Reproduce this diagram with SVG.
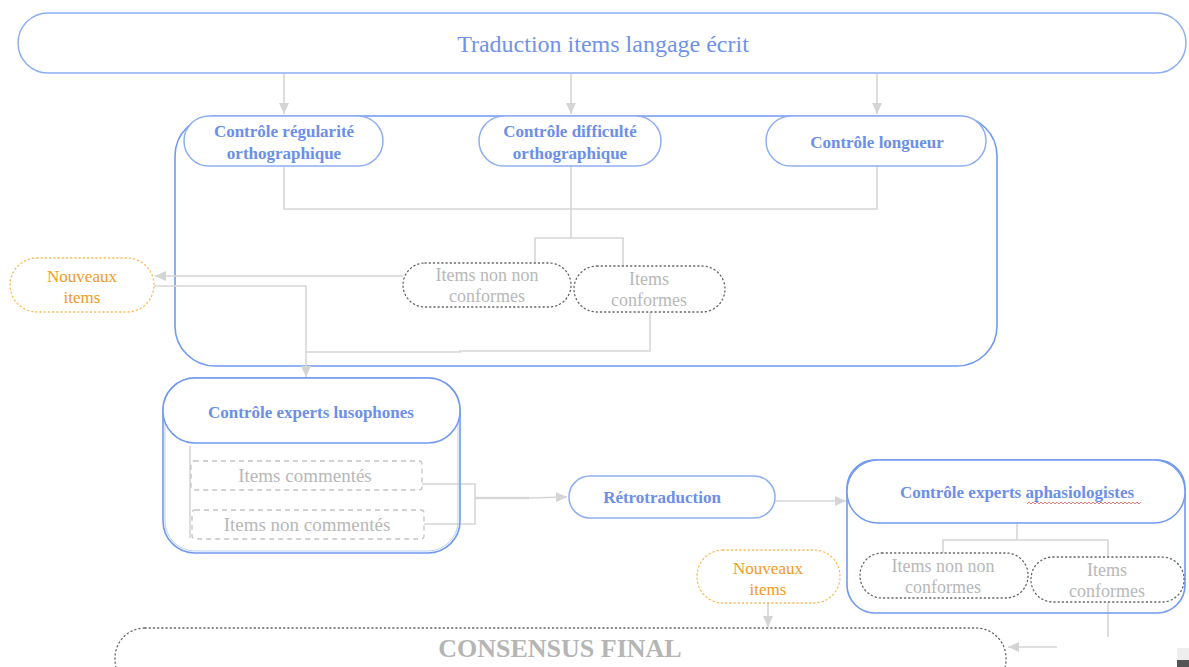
<svg xmlns="http://www.w3.org/2000/svg" width="1189" height="667" viewBox="0 0 1189 667">
<style>
.bg{fill:#ffffff}
.node{fill:#ffffff;stroke:#8eaef3;stroke-width:1.5}
.box{fill:none;stroke:#7199ef;stroke-width:1.6}
.dot{fill:#ffffff;stroke:#666;stroke-width:1.3;stroke-dasharray:1.2 3;stroke-linecap:round}
.odot{fill:#ffffff;stroke:#f9bb55;stroke-width:1.3;stroke-dasharray:1.2 3;stroke-linecap:round}
.dash{fill:#ffffff;stroke:#c4c4c4;stroke-width:1.3;stroke-dasharray:5 4}
.con{fill:none;stroke:#d6d6d6;stroke-width:1.6}
.title{font-family:"Liberation Serif",serif;font-size:24px;fill:#6f93ec;text-anchor:middle}
.bt{font-family:"Liberation Serif",serif;font-size:17px;font-weight:bold;fill:#6b8fea;text-anchor:middle}
.gt{font-family:"Liberation Serif",serif;font-size:18px;fill:#b8b8b8;text-anchor:middle}
.ot{font-family:"Liberation Serif",serif;font-size:17px;fill:#f39a22;text-anchor:middle}
.ct{font-family:"Liberation Serif",serif;font-size:26px;font-weight:bold;fill:#b5b5b5;text-anchor:middle}
</style>
<defs>
<marker id="arr" markerUnits="userSpaceOnUse" markerWidth="12" markerHeight="10" refX="11" refY="5" orient="auto">
<path d="M0,0 L11,5 L0,10 z" fill="#d4d4d4"/>
</marker>
</defs>
<rect class="bg" x="0" y="0" width="1189" height="667"/>

<g id="containers">
<rect id="box-controle" class="box" x="175" y="116" width="822" height="250" rx="40"/>
</g>

<g id="connectors">
<path class="con" d="M284,73 V114" marker-end="url(#arr)"/>
<path class="con" d="M571,73 V114" marker-end="url(#arr)"/>
<path class="con" d="M877,73 V114" marker-end="url(#arr)"/>
<path class="con" d="M284,166 V209 H877 V166"/>
<path class="con" d="M571,166 V238"/>
<path class="con" d="M535,263 V238 H623 V266"/>
<path class="con" d="M403,276 H155" marker-end="url(#arr)"/>
<path class="con" d="M153,286 H306 V377" marker-end="url(#arr)"/>
<path class="con" d="M650,312 V351 H460 V352 H306"/>
<path class="con" d="M190,446 V538"/>
<path class="con" d="M421,484 H475 V524 H423"/>
<path class="con" d="M475,498 H529" style="stroke-width:2.6"/>
<path class="con" d="M529,498 L567,497" marker-end="url(#arr)"/>
<path class="con" d="M775,501 H846" marker-end="url(#arr)"/>
<path class="con" d="M1017,523 V540"/>
<path class="con" d="M943,553 V540 H1108 V557"/>
<path class="con" d="M1108,602 V637"/>
<path class="con" d="M1057,647 H1008" marker-end="url(#arr)"/>
<path class="con" d="M768,603 V627" marker-end="url(#arr)"/>
</g>

<g id="n-traduction">
<rect class="node" x="18" y="13" width="1168" height="60" rx="30"/>
<text class="title" x="603" y="52">Traduction items langage écrit</text>
</g>

<g id="n-regularite">
<rect class="node" x="184" y="116" width="199" height="50" rx="25"/>
<text class="bt" x="284" y="137">Contrôle régularité</text>
<text class="bt" x="284" y="159">orthographique</text>
</g>

<g id="n-difficulte">
<rect class="node" x="479" y="116" width="182" height="50" rx="25"/>
<text class="bt" x="570" y="137">Contrôle difficulté</text>
<text class="bt" x="570" y="159">orthographique</text>
</g>

<g id="n-longueur">
<rect class="node" x="766" y="116" width="220" height="50" rx="25"/>
<text class="bt" x="877" y="148">Contrôle longueur</text>
</g>

<g id="n-nonconformes-1">
<rect class="dot" x="403" y="263" width="168" height="44" rx="22"/>
<text class="gt" x="487" y="281">Items non non</text>
<text class="gt" x="487" y="302">conformes</text>
</g>

<g id="n-conformes-1">
<rect class="dot" x="574" y="266" width="151" height="46" rx="23"/>
<text class="gt" x="649" y="285">Items</text>
<text class="gt" x="649" y="306">conformes</text>
</g>

<g id="n-nouveaux-1">
<rect class="odot" x="10" y="258" width="144" height="54" rx="27"/>
<text class="ot" x="82" y="282">Nouveaux</text>
<text class="ot" x="82" y="303">items</text>
</g>

<g id="n-lusophones">
<rect class="box" x="163" y="378" width="297" height="175" rx="32"/>
<rect class="box" x="165" y="380" width="293" height="171" rx="30" style="stroke-width:0.8;stroke:#a9c1f5"/>
<rect class="node" x="163" y="378" width="297" height="65" rx="32" style="stroke:#7199ef"/>
<text class="bt" x="311" y="418">Contrôle experts lusophones</text>
</g>

<g id="n-commentes">
<rect class="dash" x="191" y="461" width="231" height="29" rx="3"/>
<text class="gt" x="305" y="482" style="font-size:19px">Items commentés</text>
</g>

<g id="n-noncommentes">
<rect class="dash" x="192" y="510" width="232" height="29" rx="3"/>
<text class="gt" x="307" y="531" style="font-size:19px">Items non commentés</text>
</g>

<g id="n-retro">
<rect class="node" x="569" y="476" width="206" height="42" rx="21"/>
<text class="bt" x="662" y="503">Rétrotraduction</text>
</g>

<g id="n-aphasio">
<rect class="box" x="847" y="460" width="338" height="153" rx="28"/>
<rect class="node" x="847" y="460" width="338" height="63" rx="31" style="stroke:#7199ef"/>
<text class="bt" x="1017" y="498">Contrôle experts aphasiologistes</text>
<path d="M1027,504 l2,-2 l2,2 l2,-2 l2,2 l2,-2 l2,2 l2,-2 l2,2 l2,-2 l2,2 l2,-2 l2,2 l2,-2 l2,2 l2,-2 l2,2 l2,-2 l2,2 l2,-2 l2,2 l2,-2 l2,2 l2,-2 l2,2 l2,-2 l2,2 l2,-2 l2,2 l2,-2 l2,2 l2,-2 l2,2 l2,-2 l2,2 l2,-2 l2,2 l2,-2 l2,2 l2,-2 l2,2 l2,-2 l2,2 l2,-2 l2,2 l2,-2 l2,2 l2,-2 l2,2 l2,-2 l2,2 l2,-2 l2,2 l2,-2 l2,2 l2,-2 l2,2 l2,-2" fill="none" stroke="#e35a5a" stroke-width="0.8"/>
</g>

<g id="n-nonconformes-2">
<rect class="dot" x="860" y="553" width="168" height="45" rx="22"/>
<text class="gt" x="943" y="572">Items non non</text>
<text class="gt" x="943" y="593">conformes</text>
</g>

<g id="n-conformes-2">
<rect class="dot" x="1031" y="557" width="153" height="45" rx="22"/>
<text class="gt" x="1107" y="576">Items</text>
<text class="gt" x="1107" y="597">conformes</text>
</g>

<g id="n-nouveaux-2">
<rect class="odot" x="697" y="550" width="143" height="53" rx="26"/>
<text class="ot" x="768" y="574">Nouveaux</text>
<text class="ot" x="768" y="595">items</text>
</g>

<g id="n-consensus">
<rect class="dot" x="115" y="628" width="891" height="62" rx="30"/>
<text class="ct" x="560" y="657">CONSENSUS FINAL</text>
</g>

<rect x="1177" y="648" width="12" height="12" fill="#eeeeee"/>
<rect x="1177" y="660" width="12" height="7" fill="#555555"/>
</svg>
